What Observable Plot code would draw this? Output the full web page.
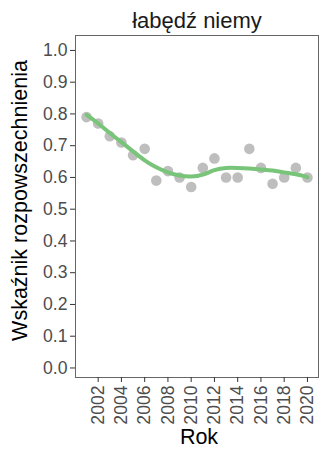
<!DOCTYPE html>
<html>
<head>
<meta charset="utf-8">
<script src="https://cdn.jsdelivr.net/npm/d3@7"></script>
<script src="https://cdn.jsdelivr.net/npm/@observablehq/plot@0.6"></script>
<style>
  html, body { margin: 0; padding: 0; background: #fff; }
  #chart { width: 325px; height: 458px; }
</style>
</head>
<body>
<div id="chart"></div>
<script>
const title = "łabędź niemy";
const xTitle = "Rok";
const yTitle = "Wskaźnik rozpowszechnienia";
const years = [2001,2002,2003,2004,2005,2006,2007,2008,2009,2010,2011,2012,2013,2014,2015,2016,2017,2018,2019,2020];
const observed = [0.79,0.77,0.73,0.71,0.67,0.69,0.59,0.62,0.60,0.57,0.63,0.66,0.60,0.60,0.69,0.63,0.58,0.60,0.63,0.60];
const smooth = [0.797,0.770,0.740,0.711,0.682,0.654,0.632,0.616,0.606,0.603,0.609,0.623,0.630,0.630,0.628,0.625,0.622,0.616,0.610,0.601];
const xTicks = [2002,2004,2006,2008,2010,2012,2014,2016,2018,2020];
const yTicks = [0.0,0.1,0.2,0.3,0.4,0.5,0.6,0.7,0.8,0.9,1.0];

const data = years.map((y, i) => ({year: y, value: observed[i], fit: smooth[i]}));

const font = "'Liberation Sans', Arial, sans-serif";
const chart = Plot.plot({
  width: 325,
  height: 458,
  marginLeft: 75,
  marginRight: 7,
  marginTop: 35,
  marginBottom: 81,
  style: {fontFamily: font, background: "#fff", overflow: "visible"},
  x: {domain: [2001 - 0.95, 2020 + 0.95], label: null},
  y: {domain: [-0.03, 1.047], label: null},
  marks: [
    Plot.dot(data, {x: "year", y: "value", r: 5.3, fill: "#bebebe", stroke: "none"}),
    Plot.line(data, {x: "year", y: "fit", stroke: "#78c478", strokeWidth: 4, curve: "natural"}),
    Plot.frame({stroke: "#666", strokeWidth: 1}),
    Plot.axisY({ticks: yTicks, tickFormat: d3.format(".1f"), tickSize: 5, tickPadding: 3, fontSize: 17.6, color: "#4d4d4d", stroke: "#333", label: null}),
    Plot.axisX({ticks: xTicks, tickFormat: d => String(d), tickSize: 5, tickPadding: 3, tickRotate: -90, fontSize: 17.6, color: "#4d4d4d", stroke: "#333", label: null}),
    Plot.text([title], {frameAnchor: "top", dy: -23, fontSize: 22, fill: "#1a1a1a"}),
    Plot.text([xTitle], {frameAnchor: "bottom", dy: 66, dx: 2, fontSize: 21.5, fill: "#000"}),
    Plot.text([yTitle], {frameAnchor: "left", textAnchor: "middle", dx: -55, dy: -6, rotate: -90, fontSize: 21.5, fill: "#000"})
  ]
});
document.getElementById("chart").appendChild(chart);
</script>
</body>
</html>
